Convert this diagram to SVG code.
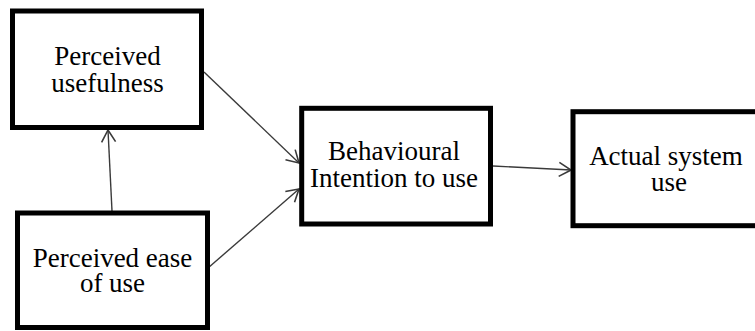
<svg xmlns="http://www.w3.org/2000/svg" width="755" height="331" viewBox="0 0 755 331">
  <style>
    .box { fill: #ffffff; stroke: #000000; stroke-width: 5; }
    .lbl { font-family: "Liberation Serif", "Times New Roman", serif; font-size: 27px; fill: #000000; text-anchor: middle; }
    .edge { fill: none; stroke: #3a3a3a; stroke-width: 1.4; }
  </style>
  <defs>
    <marker id="arrow" markerUnits="userSpaceOnUse" markerWidth="14" markerHeight="16" viewBox="0 0 14 16" refX="13" refY="8" orient="auto">
      <path d="M1,1 L13,8 L1,15" fill="none" stroke="#3a3a3a" stroke-width="1.6"/>
    </marker>
  </defs>
  <rect width="755" height="331" fill="#ffffff"/>
  <g id="connectors">
    <line class="edge" x1="204" y1="72" x2="299" y2="163" marker-end="url(#arrow)"/>
    <line class="edge" x1="208" y1="268" x2="299" y2="189" marker-end="url(#arrow)"/>
    <line class="edge" x1="493" y1="166" x2="571" y2="170" marker-end="url(#arrow)"/>
    <line class="edge" x1="112" y1="211" x2="108" y2="130" marker-end="url(#arrow)"/>
  </g>
  <g id="node-pu">
    <rect class="box" x="12.5" y="11" width="189" height="116.5"/>
    <text class="lbl" x="107.5" y="65">Perceived</text>
    <text class="lbl" x="107.5" y="92">usefulness</text>
  </g>
  <g id="node-peou">
    <rect class="box" x="17.5" y="213" width="190" height="114.5"/>
    <text class="lbl" x="112.5" y="267">Perceived ease</text>
    <text class="lbl" x="112.5" y="292">of use</text>
  </g>
  <g id="node-bi">
    <rect class="box" x="301.7" y="108.3" width="188.8" height="115.7"/>
    <text class="lbl" x="394" y="160">Behavioural</text>
    <text class="lbl" x="394" y="187">Intention to use</text>
  </g>
  <g id="node-asu">
    <rect class="box" x="573" y="111.7" width="190" height="114"/>
    <text class="lbl" x="666" y="165">Actual system</text>
    <text class="lbl" x="669" y="191">use</text>
  </g>
</svg>
